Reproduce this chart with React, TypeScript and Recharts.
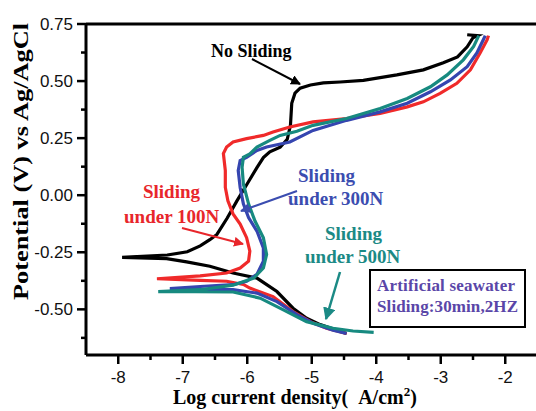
import { LineChart, Line, XAxis, YAxis, ReferenceLine } from "recharts";

// log i (A/cm2), potential (V) — traced from cathodic tail -> Ecorr tip -> anodic top
const NO_SLIDING: [number, number][] = [
  [-4.46, -0.606], [-4.87, -0.567], [-5.08, -0.539], [-5.29, -0.495], [-5.54, -0.422],
  [-5.85, -0.363], [-6.22, -0.341], [-6.58, -0.311], [-6.94, -0.292], [-7.25, -0.278],
  [-7.94, -0.272], [-7.24, -0.262], [-6.93, -0.248], [-6.73, -0.222], [-6.58, -0.195],
  [-6.47, -0.172], [-6.31, -0.1], [-6.16, -0.025], [-6.0, 0.05], [-5.85, 0.121],
  [-5.75, 0.165], [-5.65, 0.19], [-5.49, 0.21], [-5.38, 0.245], [-5.33, 0.306],
  [-5.31, 0.403], [-5.26, 0.447], [-5.18, 0.469], [-5.02, 0.483], [-4.82, 0.492],
  [-4.56, 0.496], [-4.2, 0.503], [-3.68, 0.527], [-3.27, 0.549], [-2.96, 0.58],
  [-2.74, 0.606], [-2.59, 0.65], [-2.5, 0.69], [-2.43, 0.699], [-2.59, 0.703],
];

const SLIDING_100N: [number, number][] = [
  [-4.46, -0.606], [-4.77, -0.583], [-5.02, -0.554], [-5.29, -0.51], [-5.6, -0.444],
  [-5.96, -0.407], [-6.06, -0.391], [-6.32, -0.377], [-6.73, -0.373], [-7.4, -0.366],
  [-6.73, -0.353], [-6.32, -0.341], [-6.11, -0.319], [-5.98, -0.289], [-5.96, -0.245],
  [-6.01, -0.186], [-6.11, -0.126], [-6.22, -0.082], [-6.3, -0.025], [-6.34, 0.034],
  [-6.34, 0.108], [-6.37, 0.183], [-6.32, 0.211], [-6.22, 0.233], [-6.01, 0.248],
  [-5.75, 0.262], [-5.6, 0.277], [-5.34, 0.299], [-4.98, 0.321], [-4.46, 0.336],
  [-3.94, 0.358], [-3.52, 0.387], [-3.27, 0.409], [-3.01, 0.446], [-2.75, 0.49],
  [-2.54, 0.549], [-2.39, 0.623], [-2.28, 0.681], [-2.26, 0.699],
];

const SLIDING_300N: [number, number][] = [
  [-4.46, -0.606], [-4.67, -0.591], [-4.98, -0.561], [-5.23, -0.523], [-5.54, -0.466],
  [-5.85, -0.429], [-6.22, -0.414], [-6.58, -0.413], [-7.2, -0.409], [-6.73, -0.4],
  [-6.22, -0.392], [-6.01, -0.377], [-5.85, -0.347], [-5.75, -0.289], [-5.75, -0.231],
  [-5.85, -0.157], [-5.98, -0.098], [-6.06, -0.038], [-6.11, 0.034], [-6.14, 0.108],
  [-6.11, 0.152], [-6.01, 0.166], [-5.85, 0.196], [-5.7, 0.211], [-5.34, 0.233],
  [-4.98, 0.284], [-4.46, 0.328], [-3.94, 0.365], [-3.52, 0.403], [-3.16, 0.453],
  [-2.85, 0.505], [-2.59, 0.563], [-2.44, 0.623], [-2.34, 0.681], [-2.31, 0.699],
];

const SLIDING_500N: [number, number][] = [
  [-4.04, -0.601], [-4.36, -0.595], [-4.67, -0.583], [-5.08, -0.554], [-5.44, -0.502],
  [-5.8, -0.451], [-6.22, -0.424], [-6.8, -0.423], [-7.38, -0.422], [-6.73, -0.414],
  [-6.22, -0.394], [-5.9, -0.363], [-5.75, -0.319], [-5.7, -0.26], [-5.75, -0.186],
  [-5.88, -0.113], [-5.98, -0.038], [-6.06, 0.049], [-6.08, 0.122], [-6.06, 0.166],
  [-5.96, 0.181], [-5.85, 0.211], [-5.65, 0.24], [-5.49, 0.262], [-5.23, 0.28],
  [-4.98, 0.306], [-4.46, 0.336], [-3.94, 0.38], [-3.52, 0.424], [-3.16, 0.475],
  [-2.9, 0.527], [-2.65, 0.593], [-2.49, 0.652], [-2.41, 0.699],
];

const X_MAJOR = [-8, -7, -6, -5, -4, -3, -2];
const X_MINOR = [-7.5, -6.5, -5.5, -4.5, -3.5, -2.5];
const Y_MAJOR = [-0.5, -0.25, 0, 0.25, 0.5, 0.75];
const Y_MINOR = [-0.625, -0.375, -0.125, 0.125, 0.375, 0.625];

const SANS = "'Liberation Sans', Arial, sans-serif";
const SERIF = "'Liberation Serif', 'Times New Roman', serif";

const toPoints = (pts: [number, number][]) => pts.map(([x, y]) => ({ x, y }));

function XTick({ x, y, payload }: any) {
  const major = X_MAJOR.includes(payload.value);
  return (
    <g>
      <line x1={x} x2={x} y1={y} y2={y + (major ? 9 : 5)} stroke="#000" strokeWidth={2.5} />
      {major && (
        <text x={x} y={y + 28} textAnchor="middle" fontSize={17} fontFamily={SANS} fill="#111">
          {String(payload.value)}
        </text>
      )}
    </g>
  );
}

function YTick({ x, y, payload }: any) {
  const major = Y_MAJOR.includes(payload.value);
  return (
    <g>
      <line x1={x - (major ? 9 : 5)} x2={x} y1={y} y2={y} stroke="#000" strokeWidth={2.5} />
      {major && (
        <text x={x - 13} y={y} dy={6} textAnchor="end" fontSize={17} fontFamily={SANS} fill="#111">
          {payload.value.toFixed(2)}
        </text>
      )}
    </g>
  );
}

function Overlay() {
  const bold = { fontFamily: SERIF, fontWeight: 700 };
  return (
    <svg width={536} height={411} style={{ position: "absolute", left: 0, top: 0, pointerEvents: "none" }}>
      <defs>
        {[["k", "#000"], ["r", "#e8262b"], ["b", "#3b4db0"], ["t", "#1b8a85"]].map(([id, c]) => (
          <marker key={id} id={`ah-${id}`} viewBox="0 0 10 10" refX={9} refY={5} markerWidth={5} markerHeight={5} orient="auto">
            <path d="M0,0 L10,5 L0,10 z" fill={c} />
          </marker>
        ))}
      </defs>

      <text transform="translate(28,161.5) rotate(-90)" textAnchor="middle" fontSize={22} textLength={277} lengthAdjust="spacingAndGlyphs" {...bold}>
        Potential (V) vs Ag/AgCl
      </text>
      <text x={173} y={404} fontSize={20} {...bold}>
        {"Log current density(\u00a0\u00a0A/cm"}<tspan dy={-8} fontSize={13}>2</tspan><tspan dy={8}>)</tspan>
      </text>

      <text x={211} y={57} fontSize={18} {...bold}>No Sliding</text>
      <line x1={252} y1={59} x2={300} y2={84} stroke="#000" strokeWidth={2} markerEnd="url(#ah-k)" />

      <g fill="#e8262b" fontSize={19} {...bold}>
        <text x={143} y={198}>Sliding</text>
        <text x={124} y={223}>under 100N</text>
      </g>
      <line x1={182} y1={228} x2={243} y2={244} stroke="#e8262b" strokeWidth={2} markerEnd="url(#ah-r)" />

      <g fill="#3b4db0" fontSize={19} {...bold}>
        <text x={298} y={182}>Sliding</text>
        <text x={288} y={205}>under 300N</text>
      </g>
      <line x1={297} y1={191} x2={241} y2={211} stroke="#3b4db0" strokeWidth={2} markerEnd="url(#ah-b)" />

      <g fill="#1b8a85" fontSize={19} {...bold}>
        <text x={325} y={240}>Sliding</text>
        <text x={305} y={263}>under 500N</text>
      </g>
      <line x1={340} y1={272} x2={326} y2={319} stroke="#1b8a85" strokeWidth={2.5} markerEnd="url(#ah-t)" />

      <rect x={370} y={270} width={155} height={57} fill="#fff" stroke="#000" strokeWidth={2} />
      <g fill="#5a46a8" fontSize={17} {...bold}>
        <text x={377} y={291} textLength={138}>Artificial seawater</text>
        <text x={377} y={312} textLength={141}>Sliding:30min,2HZ</text>
      </g>
    </svg>
  );
}

export default function App() {
  return (
    <div style={{ position: "relative", width: 536, height: 411, overflow: "hidden", background: "#fff" }}>
      <style>{"body{margin:0}"}</style>
      <LineChart width={540} height={411} margin={{ top: 24, right: 2.5, bottom: 0, left: 0 }}>
        <XAxis
          dataKey="x"
          type="number"
          domain={[-8.5, -1.5]}
          allowDataOverflow
          ticks={[...X_MAJOR, ...X_MINOR].sort((a, b) => a - b)}
          interval={0}
          height={56}
          tickSize={0}
          tickMargin={0}
          tickLine={false}
          tick={<XTick />}
          axisLine={{ stroke: "#000", strokeWidth: 3 }}
        />
        <YAxis
          type="number"
          domain={[-0.7, 0.75]}
          allowDataOverflow
          ticks={[...Y_MAJOR, ...Y_MINOR].sort((a, b) => a - b)}
          interval={0}
          width={86}
          tickSize={0}
          tickMargin={0}
          tickLine={false}
          tick={<YTick />}
          axisLine={{ stroke: "#000", strokeWidth: 3 }}
        />
        <ReferenceLine y={0.75} stroke="#000" strokeWidth={3} />
        <Line data={toPoints(NO_SLIDING)} dataKey="y" type="linear" stroke="#000" strokeWidth={3.2} dot={false} isAnimationActive={false} />
        <Line data={toPoints(SLIDING_100N)} dataKey="y" type="linear" stroke="#f02a2a" strokeWidth={3.2} dot={false} isAnimationActive={false} />
        <Line data={toPoints(SLIDING_300N)} dataKey="y" type="linear" stroke="#3545b0" strokeWidth={3.2} dot={false} isAnimationActive={false} />
        <Line data={toPoints(SLIDING_500N)} dataKey="y" type="linear" stroke="#178a80" strokeWidth={3.2} dot={false} isAnimationActive={false} />
      </LineChart>
      <Overlay />
    </div>
  );
}
